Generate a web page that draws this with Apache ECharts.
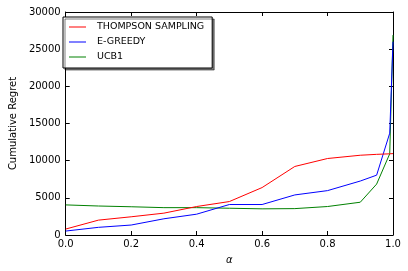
<!DOCTYPE html>
<html><head><meta charset="utf-8">
<script src="https://cdn.jsdelivr.net/npm/echarts@6/dist/echarts.min.js"></script>
<style>html,body{margin:0;padding:0;background:#fff}#c{width:408px;height:271px}</style>
</head><body><div id="c"></div>
<script>
var alphas = [0, 0.1, 0.2, 0.3, 0.4, 0.5, 0.6, 0.7, 0.8, 0.9, 0.95, 0.99, 1.0];
var thompson = [800, 2000, 2450, 2940, 3830, 4500, 6380, 9220, 10290, 10730, 10850, 10920, 10950];
var egreedy = [530, 1030, 1340, 2180, 2800, 4100, 4100, 5390, 5970, 7260, 8050, 13700, 26000];
var ucb1 = [4050, 3900, 3800, 3680, 3680, 3600, 3520, 3550, 3830, 4410, 6850, 10920, 26900];
var seriesNames = ['THOMPSON SAMPLING', 'E-GREEDY', 'UCB1'];
var colors = ['#ff0000', '#0000ff', '#008000'];
var yTicks = [0, 5000, 10000, 15000, 20000, 25000, 30000];

function pairs(v){ return alphas.map(function(a,i){ return [a, v[i]]; }); }
var font = 'DejaVu Sans';
var chart = echarts.init(document.getElementById('c'));
var axisCommon = {
  min: 0, axisLine: {show: true, onZero: false, lineStyle: {color: '#000', width: 1}},
  axisTick: {show: true, inside: true, length: 4, lineStyle: {color: '#000'}},
  splitLine: {show: false}
};
chart.setOption({
  animation: false,
  grid: {left: 58, right: 15, top: 12, bottom: 36, containLabel: false},
  legend: {
    data: seriesNames, orient: 'vertical', left: 63, top: 17,
    backgroundColor: '#fff', borderColor: '#000', borderWidth: 1,
    shadowColor: 'rgba(0,0,0,0.5)', shadowOffsetX: 2, shadowOffsetY: 2, shadowBlur: 0,
    padding: [5, 8, 6, 6], itemGap: 5, itemWidth: 17, itemHeight: 1, icon: 'rect',
    textStyle: {fontFamily: font, fontSize: 9.5, color: '#000', padding: [0, 0, 0, 6], lineHeight: 10}
  },
  xAxis: [
    Object.assign({}, axisCommon, {type: 'value', max: 1, interval: 0.2, position: 'bottom',
      name: 'α', nameLocation: 'middle', nameGap: 20,
      nameTextStyle: {fontFamily: font, fontSize: 10, fontStyle: 'italic', color: '#000'},
      axisLabel: {fontFamily: font, fontSize: 10, color: '#000', margin: 4,
        formatter: function(v){ return v.toFixed(1); }}}),
    Object.assign({}, axisCommon, {type: 'value', max: 1, interval: 0.2, position: 'top',
      axisLabel: {show: false}})
  ],
  yAxis: [
    Object.assign({}, axisCommon, {type: 'value', max: 30000, interval: 5000, position: 'left',
      name: 'Cumulative Regret', nameLocation: 'middle', nameGap: 46,
      nameTextStyle: {fontFamily: font, fontSize: 10, color: '#000'},
      axisLabel: {fontFamily: font, fontSize: 10, color: '#000', margin: 5,
        formatter: function(v){ return String(v); }}}),
    Object.assign({}, axisCommon, {type: 'value', max: 30000, interval: 5000, position: 'right',
      axisLabel: {show: false}})
  ],
  series: [thompson, egreedy, ucb1].map(function(v, i){
    return {name: seriesNames[i], type: 'line', data: pairs(v), showSymbol: false, symbol: 'none',
      lineStyle: {color: colors[i], width: 1}, itemStyle: {color: colors[i]}, z: 3 - i};
  })
});
</script></body></html>
